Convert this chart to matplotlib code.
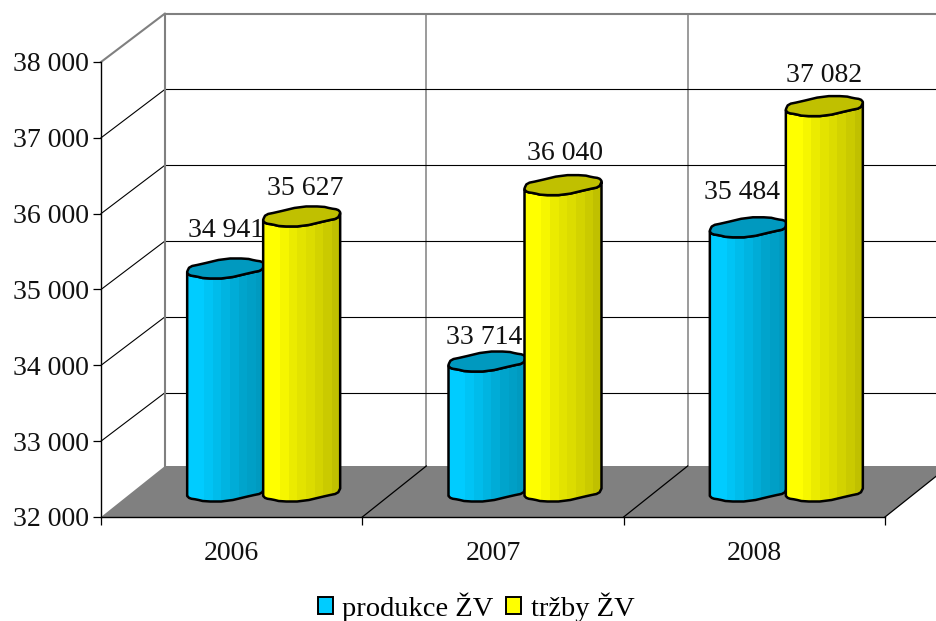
import matplotlib
matplotlib.use("Agg")
import matplotlib.pyplot as plt
from matplotlib.patches import Polygon, Patch
import numpy as np

plt.rcParams['font.family'] = ['Liberation Serif', 'DejaVu Serif']

years = ["2006", "2007", "2008"]
produkce = [34941, 33714, 35484]
trzby = [35627, 36040, 37082]
y_ticks = [32000, 33000, 34000, 35000, 36000, 37000, 38000]

# 3D look: pixels of the front plane and how far the back wall is shifted
W, H = 937, 621
LEFT, RIGHT, BOTTOM, TOP = 101, 885, 517, 62
DEPTH_X, DEPTH_Y = 64, 51
WALL_Y = 48.5
GRAY = "#808080"

# outline of the column top around its centre, in pixels
LOWER = [(-38.5, -4.5), (-36, -7), (-29, -8), (-21, -10), (1, -10), (26, -4), (36, -2), (38.5, 3)]
UPPER = [(38.5, 4.5), (36, 7), (29, 8), (21, 10), (-1, 10), (-26, 4), (-36, 2), (-38.5, -3)]

BLUES = ["#00CCFF", "#00CCFF", "#00C4F5", "#00BCEB", "#00B4E1", "#00ACD7", "#00A4CC", "#009FC6", "#009AC0"]
YELLOWS = ["#FFFF00", "#FFFF00", "#F6F600", "#EBEB00", "#E3E300", "#DCDC00", "#D3D300", "#CACA00", "#C0C000"]
BLUE_TOP = "#0099BF"
YELLOW_TOP = "#C0C000"

fig = plt.figure(figsize=(W / 100, H / 100), dpi=100)
ax = fig.add_axes([LEFT / W, 1 - BOTTOM / H, (RIGHT - LEFT) / W, (BOTTOM - TOP) / H])
ax.set_xlim(0, 3)
ax.set_ylim(y_ticks[0], y_ticks[-1])

px_x = 3 / (RIGHT - LEFT)
px_y = (y_ticks[-1] - y_ticks[0]) / (BOTTOM - TOP)
dx = DEPTH_X * px_x
dy = DEPTH_Y * px_y
wall = WALL_Y * px_y


def soften(points, closed=False):
    # one pass of corner cutting so the column outline is not angular
    pts = list(points)
    out = [] if closed else [pts[0]]
    pairs = list(zip(pts, pts[1:] + pts[:1])) if closed else list(zip(pts, pts[1:]))
    for (x0, y0), (x1, y1) in pairs:
        out.append((0.75 * x0 + 0.25 * x1, 0.75 * y0 + 0.25 * y1))
        out.append((0.25 * x0 + 0.75 * x1, 0.25 * y0 + 0.75 * y1))
    if not closed:
        out.append(pts[-1])
    return out


def draw_floor_and_walls():
    y0, y1 = y_ticks[0], y_ticks[-1]
    ax.add_patch(Polygon([(0, y0), (3, y0), (3 + dx, y0 + dy), (dx, y0 + dy)],
                         closed=True, facecolor=GRAY, edgecolor="none", clip_on=False, zorder=1))
    for v in y_ticks[1:-1]:
        ax.plot([0, dx], [v, v + wall], color="black", lw=0.8, clip_on=False, zorder=0.9)
        ax.plot([dx, 3 + dx], [v + wall, v + wall], color="black", lw=0.8, clip_on=False, zorder=0.9)
    for i in [1, 2]:
        ax.plot([i + dx, i + dx], [y0 + dy, y1 + wall], color=GRAY, lw=1.1, clip_on=False, zorder=0.8)
    for i in [1, 2, 3]:
        ax.plot([i, i + dx], [y0, y0 + dy], color="black", lw=0.9, clip_on=False, zorder=1.5)
    ax.plot([0, dx, dx], [y1, y1 + wall, y0 + dy], color=GRAY, lw=1.5, clip_on=False, zorder=1.2)
    ax.plot([dx, 3 + dx], [y1 + wall, y1 + wall], color=GRAY, lw=1.5, clip_on=False, zorder=1.2)


def draw_column(center, value, shades, top_color, z):
    base = y_ticks[0] + dy / 2
    top = value + dy / 2
    lower = soften(LOWER)
    lower_top = [(center + a * px_x, top + b * px_y) for a, b in lower]
    lower_base = [(center + a * px_x, base + b * px_y) for a, b in lower]
    body = Polygon(lower_top + lower_base[::-1], closed=True, facecolor="none", edgecolor="none",
                   clip_on=False, zorder=z)
    ax.add_patch(body)

    # stepped shading, clipped to the column outline
    edges = np.linspace(center - 39 * px_x, center + 39 * px_x, len(shades) + 1)
    bars = ax.bar(edges[:-1], top - base + 30 * px_y, width=np.diff(edges), bottom=base - 15 * px_y,
                  align="edge", color=shades, linewidth=0, zorder=z)
    for b in bars:
        b.set_clip_path(body)

    outline = Polygon(lower_top + lower_base[::-1], closed=True, facecolor="none", edgecolor="black",
                      lw=1.8, joinstyle="round", clip_on=False, zorder=z + 0.1)
    ax.add_patch(outline)
    cap = [(center + a * px_x, top + b * px_y) for a, b in soften(LOWER + UPPER, closed=True)]
    ax.add_patch(Polygon(cap, closed=True, facecolor=top_color, edgecolor="black", lw=1.8,
                         joinstyle="round", clip_on=False, zorder=z + 0.2))


def fmt(v):
    return f"{v:,}".replace(",", " ")


draw_floor_and_walls()

# label offsets above the column centre in pixels (x, y)
blue_offsets = [(0, 38), (-3, 24), (-6, 35)]
yellow_offsets = [(4, 28), (2, 32), (0, 31)]

for i in range(3):
    mid = i + 0.5 + dx / 2
    blue_x = mid - 38 * px_x
    yellow_x = mid + 38 * px_x
    draw_column(blue_x, produkce[i], BLUES, BLUE_TOP, 3)
    ax.annotate(fmt(produkce[i]), (blue_x, produkce[i] + dy / 2), xytext=blue_offsets[i],
                textcoords="offset pixels", ha="center", va="center", fontsize=20, color="#111111", zorder=3.5)
    draw_column(yellow_x, trzby[i], YELLOWS, YELLOW_TOP, 4)
    ax.annotate(fmt(trzby[i]), (yellow_x, trzby[i] + dy / 2), xytext=yellow_offsets[i],
                textcoords="offset pixels", ha="center", va="center", fontsize=20, color="#111111", zorder=5)

ax.patch.set_visible(False)
for s in ["top", "right"]:
    ax.spines[s].set_visible(False)
for s in ["left", "bottom"]:
    ax.spines[s].set_linewidth(1.0)
    ax.spines[s].set_zorder(2)

ax.set_yticks(y_ticks)
ax.set_yticklabels([fmt(v) for v in y_ticks], fontsize=20, color="#111111")
ax.set_xticks([0, 1, 2, 3])
ax.set_xticklabels([])
ax.set_xticks([0.5, 1.5, 2.5], labels=years, minor=True, fontsize=20, color="#111111")
ax.tick_params(axis="y", length=5.5, width=0.9, pad=3)
ax.tick_params(axis="x", which="major", length=6, width=0.9)
ax.tick_params(axis="x", which="minor", length=0, pad=17)

handles = [Patch(facecolor="#00CCFF", edgecolor="black", lw=1.4, label="produkce ŽV"),
           Patch(facecolor="#FFFF00", edgecolor="black", lw=1.4, label="tržby ŽV")]
fig.legend(handles=handles, loc="center", bbox_to_anchor=(476 / W, 1 - 607 / H), ncols=2, frameon=False,
           fontsize=20.5, handlelength=0.55, handleheight=0.55, handletextpad=0.32, columnspacing=0.42,
           borderpad=0)

fig.savefig("out.png", dpi=100)
